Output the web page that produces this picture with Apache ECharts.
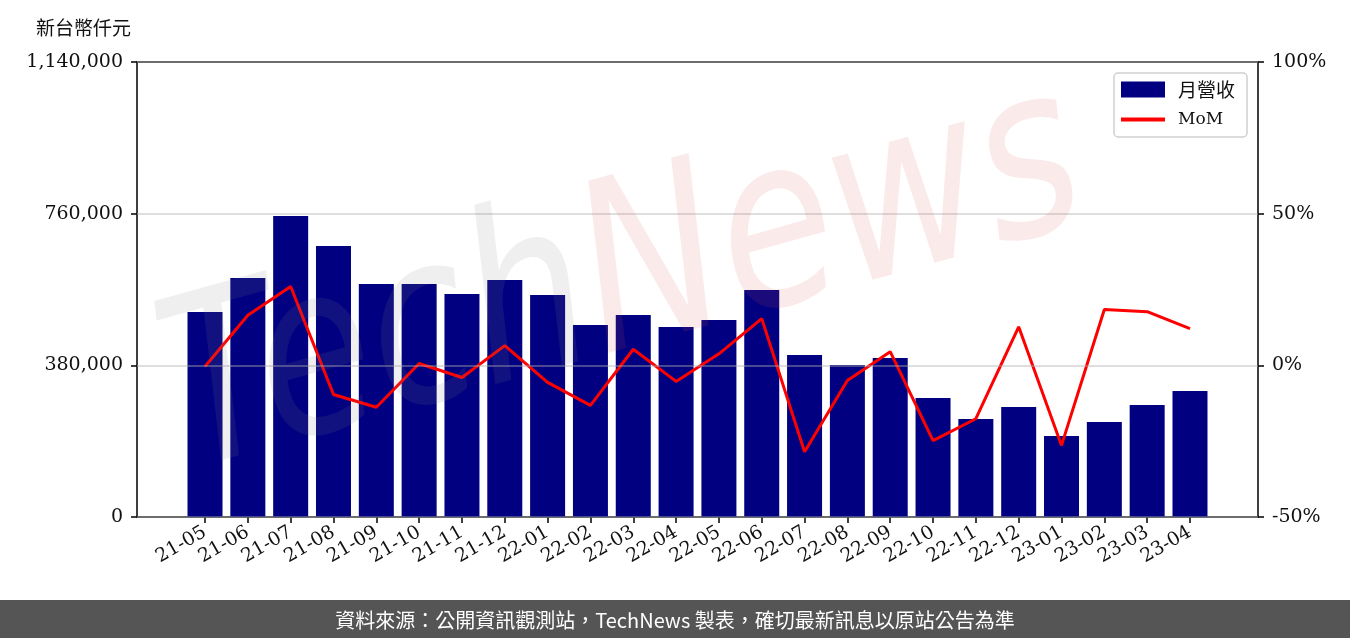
<!DOCTYPE html>
<html>
<head>
<meta charset="utf-8">
<script src="https://cdn.jsdelivr.net/npm/echarts@6/dist/echarts.min.js"></script>
<style>
html,body{margin:0;padding:0;background:#fff;}
#chart{width:1350px;height:638px;}
</style>
</head>
<body>
<div id="chart"></div>
<script>
const categories = ['21-05','21-06','21-07','21-08','21-09','21-10','21-11','21-12','22-01','22-02','22-03','22-04','22-05','22-06','22-07','22-08','22-09','22-10','22-11','22-12','23-01','23-02','23-03','23-04'];
const revenue = [513600,598800,754200,679000,583800,583800,558700,593800,556200,481000,506100,476000,493600,568700,405900,380800,398400,298200,245500,275600,202900,238000,280600,315700];
const mom = [-0.4,16.5,26.0,-9.6,-13.8,0.6,-4.0,6.5,-5.6,-13.2,5.3,-5.3,3.8,15.4,-28.5,-5.0,4.5,-24.8,-17.6,12.7,-26.4,18.4,17.7,12.1];

const serif = "'DejaVu Serif', 'Liberation Serif', serif";
const cjk = "'Noto Sans CJK TC', 'Noto Sans CJK SC', sans-serif";

const chart = echarts.init(document.getElementById('chart'), null, {renderer: 'canvas'});
const fmt = v => Number(v).toLocaleString('en-US');

const option = {
  animation: false,
  backgroundColor: '#fff',
  title: {
    text: '新台幣仟元', left: 31, top: 13,
    textStyle: {fontFamily: cjk, fontSize: 19, fontWeight: 'normal', color: '#111'}
  },
  legend: {
    orient: 'vertical', right: 103, top: 73,
    backgroundColor: '#fff', borderColor: '#d0d0d0', borderWidth: 1.5, borderRadius: 4,
    padding: [7, 12, 9, 7], itemGap: 12, itemWidth: 44, itemHeight: 16,
    formatter: name => name === 'MoM' ? '{l|MoM}' : '{c|' + name + '}',
    textStyle: {
      color: '#111', padding: [0, 0, 0, 8],
      rich: {
        l: {fontFamily: serif, fontSize: 17, color: '#111'},
        c: {fontFamily: cjk, fontSize: 19, color: '#111'}
      }
    },
    data: [{name: '月營收', icon: 'rect'}, {name: 'MoM', icon: 'path://M0,0H44V4H0Z'}],
    z: 10
  },
  grid: [
    {left: 137, right: 92, top: 62, bottom: 121, show: true, borderColor: '#000', borderWidth: 1.5, backgroundColor: 'transparent'},
    {left: 183.6, right: 138.6, top: 62, bottom: 121}
  ],
  xAxis: [
    {gridIndex: 0, type: 'value', min: 0, max: 1, show: false},
    {gridIndex: 1, type: 'category', data: categories, boundaryGap: true,
      axisLine: {show: false},
      axisTick: {show: true, alignWithLabel: true, interval: 0, length: 6, lineStyle: {color: '#000', width: 1.5}},
      axisLabel: {rotate: 30, interval: 0, margin: 14, fontFamily: serif, fontSize: 19, color: '#111'},
      splitLine: {show: false}}
  ],
  yAxis: [
    {gridIndex: 0, type: 'value', position: 'left', min: 0, max: 1140000, interval: 380000,
      axisLine: {show: false},
      axisTick: {show: true, length: 6, lineStyle: {color: '#000', width: 1.5}},
      axisLabel: {margin: 14, fontFamily: serif, fontSize: 19, color: '#111', formatter: fmt},
      splitLine: {show: true, lineStyle: {color: 'rgba(176,176,176,0.55)', width: 1.5}},
      z: 5},
    {gridIndex: 0, type: 'value', position: 'right', min: -50, max: 100, interval: 50,
      axisLine: {show: false},
      axisTick: {show: true, length: 6, lineStyle: {color: '#000', width: 1.5}},
      axisLabel: {margin: 14, fontFamily: serif, fontSize: 19, color: '#111', formatter: '{value}%'},
      splitLine: {show: false}},
    {gridIndex: 1, type: 'value', min: 0, max: 1140000, show: false},
    {gridIndex: 1, type: 'value', min: -50, max: 100, show: false}
  ],
  series: [
    {name: '月營收', type: 'bar', xAxisIndex: 1, yAxisIndex: 2, data: revenue,
      barWidth: 35, itemStyle: {color: '#000080'}, z: 2},
    {name: 'MoM', type: 'line', xAxisIndex: 1, yAxisIndex: 3, data: mom,
      symbol: 'none', lineStyle: {color: '#ff0000', width: 3}, itemStyle: {color: '#ff0000'}, z: 4}
  ],
  graphic: [
    {type: 'text', x: 625, y: 285, rotation: 0.27, scaleX: 0.8, scaleY: 1, z: 100, silent: true,
      style: {
        text: '{a|Tech}{b|News}',
        align: 'center', verticalAlign: 'middle',
        rich: {
          a: {fontFamily: "'DejaVu Sans', sans-serif", fontSize: 235, fontStyle: 'italic', fill: 'rgba(128,128,128,0.13)'},
          b: {fontFamily: "'DejaVu Sans', sans-serif", fontSize: 235, fontStyle: 'italic', fill: 'rgba(220,80,80,0.12)'}
        }
      }},
    {type: 'rect', left: 0, bottom: 0, z: 50, shape: {width: 1350, height: 38}, style: {fill: '#555555'}},
    {type: 'text', left: 'center', bottom: 8, z: 51,
      style: {text: '資料來源：公開資訊觀測站，TechNews 製表，確切最新訊息以原站公告為準', fill: '#fff', fontFamily: cjk, fontSize: 20}}
  ]
};
chart.setOption(option);
</script>
</body>
</html>
